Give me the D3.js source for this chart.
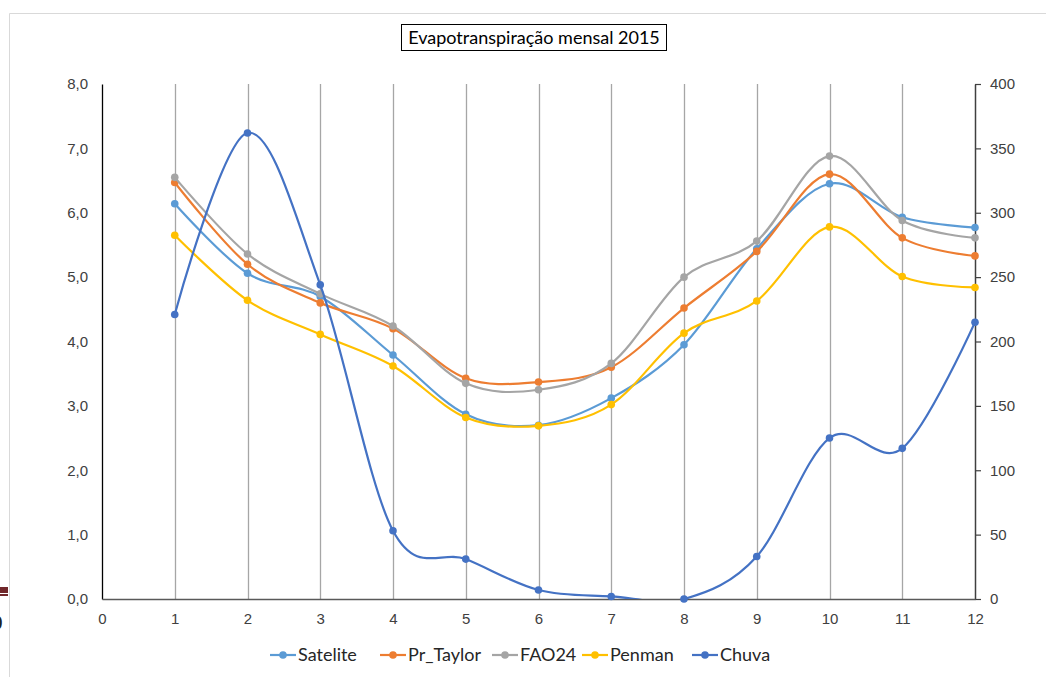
<!DOCTYPE html>
<html>
<head>
<meta charset="utf-8">
<script src="https://cdn.jsdelivr.net/npm/d3@7"></script>
<style>
  body { margin: 0; background: #fff; }
  svg { display: block; font-family: Lato, "Open Sans", sans-serif; }
</style>
</head>
<body>
<div id="chart"></div>
<script>
// DATA
const months = [1, 2, 3, 4, 5, 6, 7, 8, 9, 10, 11, 12];
const satelite = [6.14, 5.06, 4.70, 3.79, 2.87, 2.70, 3.12, 3.95, 5.44, 6.45, 5.93, 5.77];
const prTaylor = [6.47, 5.20, 4.60, 4.20, 3.43, 3.37, 3.60, 4.52, 5.40, 6.60, 5.61, 5.33];
const fao24 = [6.55, 5.36, 4.74, 4.24, 3.35, 3.25, 3.66, 5.00, 5.56, 6.88, 5.88, 5.61];
const penman = [5.65, 4.64, 4.11, 3.62, 2.82, 2.69, 3.02, 4.13, 4.63, 5.78, 5.01, 4.84];
const chuva = [221, 362, 244, 53, 31, 7, 2, 0, 33, 125, 117, 215];

const xTicks = [0, 1, 2, 3, 4, 5, 6, 7, 8, 9, 10, 11, 12];
const leftTicks = [0, 1, 2, 3, 4, 5, 6, 7, 8];
const rightTicks = [0, 50, 100, 150, 200, 250, 300, 350, 400];

const seriesNames = ["Satelite", "Pr_Taylor", "FAO24", "Penman", "Chuva"];
const seriesColors = ["#5B9BD5", "#ED7D31", "#A5A5A5", "#FFC000", "#4472C4"];

// SIZES
const width = 1046;
const height = 677;
const plotLeft = 102, plotRight = 975, plotTop = 84, plotBottom = 599;

const svg = d3.select("#chart").append("svg")
    .attr("width", width)
    .attr("height", height);

// leftovers of the sheet behind the chart
svg.append("rect").attr("x", 0).attr("y", 587).attr("width", 8).attr("height", 6).attr("fill", "#70272A");
svg.append("rect").attr("x", 0).attr("y", 594).attr("width", 8).attr("height", 2).attr("fill", "#70272A");
svg.append("text").attr("x", -7).attr("y", 629).text("0")
    .style("font-family", "'Liberation Serif', serif").style("font-weight", "bold").style("font-size", "19px").attr("fill", "#222");

// CHART FRAME
svg.append("path")
    .attr("d", "M9.5," + height + "V13.5H" + width)
    .attr("fill", "none").attr("stroke", "#D9D9D9").attr("stroke-width", 1);

// SCALES
const x = d3.scaleLinear().domain([0, 12]).range([plotLeft, plotRight]);
const y = d3.scaleLinear().domain([0, 8]).range([plotBottom, plotTop]);
const y2 = d3.scaleLinear().domain([0, 400]).range([plotBottom, plotTop]);

// VERTICAL GRIDLINES
svg.append("g").selectAll("line")
    .data(months.slice(0, 11))
    .enter().append("line")
    .attr("x1", d => Math.round(x(d)) + 0.5).attr("x2", d => Math.round(x(d)) + 0.5)
    .attr("y1", plotTop).attr("y2", plotBottom)
    .attr("stroke", "#A6A6A6").attr("stroke-width", 1.3);

// LEFT AXIS
const yAxis = svg.append("g")
    .attr("transform", "translate(" + plotLeft + ",0)")
    .call(d3.axisLeft(y).tickValues(leftTicks).tickSize(0).tickPadding(14)
        .tickFormat(d => d3.format(".1f")(d).replace(".", ",")));
yAxis.select(".domain").attr("stroke", "#000").attr("stroke-width", 1.3);
yAxis.selectAll("text").style("font-size", "15px").attr("fill", "#404040");

// RIGHT AXIS
const y2Axis = svg.append("g")
    .attr("transform", "translate(" + plotRight + ",0)")
    .call(d3.axisRight(y2).tickValues(rightTicks).tickSize(6).tickSizeOuter(0).tickPadding(9));
y2Axis.select(".domain").attr("stroke", "#404040").attr("stroke-width", 1.5);
y2Axis.selectAll("line").attr("stroke", "#404040").attr("stroke-width", 1.2);
y2Axis.selectAll("text").style("font-size", "15px").attr("fill", "#404040");

// BOTTOM AXIS
const xAxis = svg.append("g")
    .attr("transform", "translate(0," + plotBottom + ")")
    .call(d3.axisBottom(x).tickValues(xTicks).tickSize(0).tickPadding(14));
xAxis.select(".domain").attr("stroke", "#595959").attr("stroke-width", 1.3);
xAxis.selectAll("text").style("font-size", "15px").attr("fill", "#404040");

// CLIP TO PLOT AREA
svg.append("clipPath").attr("id", "plot")
    .append("rect").attr("x", plotLeft).attr("y", 0).attr("width", plotRight - plotLeft).attr("height", plotBottom);

const line = d3.line()
    .x(d => x(d.m))
    .y(d => d.s(d.v))
    .curve(d3.curveCatmullRom.alpha(0));

const allSeries = [satelite, prTaylor, fao24, penman, chuva].map(function (vals, i) {
    const scale = i === 4 ? y2 : y;
    return {
        name: seriesNames[i],
        color: seriesColors[i],
        points: vals.map((v, j) => ({ m: months[j], v: v, s: scale }))
    };
});

const gSeries = svg.selectAll(".series")
    .data(allSeries)
    .enter().append("g")
    .attr("class", "series");

gSeries.append("path")
    .attr("d", d => line(d.points))
    .attr("clip-path", "url(#plot)")
    .attr("fill", "none")
    .attr("stroke", d => d.color)
    .attr("stroke-width", 2.2);

gSeries.each(function (d) {
    d3.select(this).selectAll("circle")
        .data(d.points)
        .enter().append("circle")
        .attr("cx", p => x(p.m))
        .attr("cy", p => p.s(p.v))
        .attr("r", 3.8)
        .attr("fill", d.color);
});

// TITLE
const title = svg.append("g");
title.append("rect")
    .attr("x", 401.5).attr("y", 24.5).attr("width", 265).attr("height", 26)
    .attr("fill", "#fff").attr("stroke", "#000").attr("stroke-width", 1);
title.append("text")
    .attr("x", 534).attr("y", 44)
    .attr("text-anchor", "middle")
    .style("font-size", "18px").attr("fill", "#000")
    .text("Evapotranspiração mensal 2015");

// LEGEND
const legendX = [270, 380, 492, 582, 692];
const legend = svg.selectAll(".legend")
    .data(allSeries)
    .enter().append("g")
    .attr("class", "legend")
    .attr("transform", (d, i) => "translate(" + legendX[i] + ",655)");
legend.append("line")
    .attr("x1", 0).attr("x2", 26)
    .attr("stroke", d => d.color).attr("stroke-width", 2.2);
legend.append("circle")
    .attr("cx", 13).attr("r", 3.8).attr("fill", d => d.color);
legend.append("text")
    .attr("x", 28).attr("y", 6)
    .style("font-size", "18px").attr("fill", "#262626")
    .text(d => d.name);
</script>
</body>
</html>
